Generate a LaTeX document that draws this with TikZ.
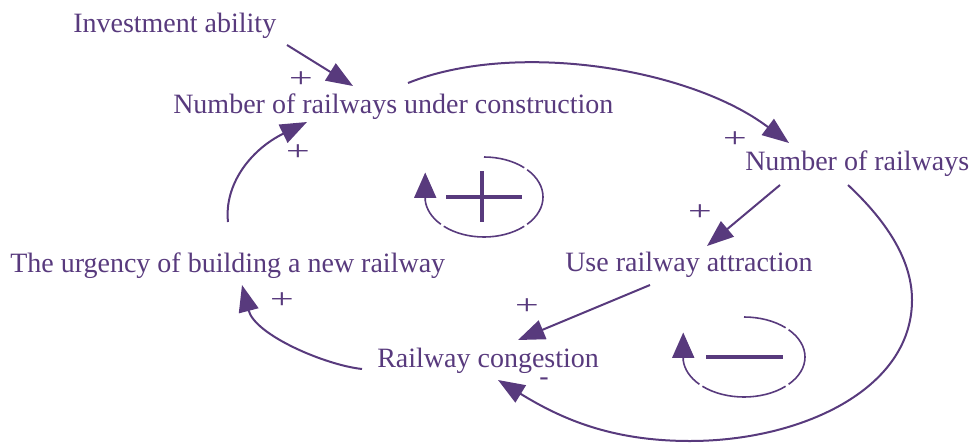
\documentclass[tikz,border=0pt]{standalone}
\usepackage{fontspec}
\setmainfont{Liberation Serif}
\usetikzlibrary{arrows.meta,calc}
\definecolor{ink}{RGB}{88,58,125}
\begin{document}
\begin{tikzpicture}[x=0.75pt,y=-0.75pt,
  var/.style={anchor=base west,inner sep=0pt,text=ink,font=\fontsize{21}{25}\selectfont},
  link/.style={draw=ink,line width=1.5pt,-{Triangle[length=20pt,width=15pt]}},
  pol/.style={text=ink,inner sep=0pt,font=\fontsize{21}{21}\selectfont},
  loopline/.style={draw=ink,line width=1.2pt},
  looptip/.style={loopline,-{Triangle[length=19pt,width=16.5pt]}},
  bar/.style={draw=ink,line width=2.5pt}]
\useasboundingbox (0,0) rectangle (974,443);

% variables
\node[var] (inv) at (73,32)  {Investment ability};
\node[var] (nuc) at (173,113) {Number of railways under construction};
\node[var] (nr)  at (745,170) {Number of railways};
\node[var] (ura) at (565,271) {Use railway attraction};
\node[var] (urg) at (10,272)  {The urgency of building a new railway};
\node[var] (rc)  at (377,367) {Railway congestion};

% causal links
\draw[link] ($(inv.base west)+(214,13)$) -- ($(nuc.base west)+(180,-27)$);
\draw[link] ($(nuc.base west)+(235,-30)$) .. controls (515,40) and (690,68) .. ($(nr.base west)+(44,-27)$);
\draw[link] ($(nr.base west)+(35,15)$) -- ($(ura.base west)+(142,-25)$);
\draw[link] ($(ura.base west)+(85,14)$) -- ($(rc.base west)+(141,-27)$);
\draw[link] ($(nr.base west)+(103,15)$) .. controls (880,215) and (912,255) .. (912,300)
  .. controls (912,390) and (800,441) .. (690,441)
  .. controls (610,441) and (560,418) .. ($(rc.base west)+(121,13)$);
\draw[link] ($(rc.base west)+(-15,2)$) .. controls (325,365) and (255,335) .. ($(urg.base west)+(232,13)$);
\draw[link] ($(urg.base west)+(218,-50)$) .. controls (224,185) and (250,150) .. ($(nuc.base west)+(134,9)$);

% link polarities
\node[pol] (s1) at (301,80)  {\scalebox{1.5}[1]{+}};
\node[pol] (s2) at (298,153) {\scalebox{1.5}[1]{+}};
\node[pol] (s3) at (735,140) {\scalebox{1.5}[1]{+}};
\node[pol] (s4) at (700,213) {\scalebox{1.5}[1]{+}};
\node[pol] (s5) at (527,307) {\scalebox{1.5}[1]{+}};
\node[pol] (s6) at (282,301) {\scalebox{1.5}[1]{+}};
\node[pol] (s7) at (544,382) {-};

% reinforcing loop marker
\draw[loopline] (484,197) ++(-90:59 and 40) arc[start angle=-90,end angle=-47,x radius=59,y radius=40];
\draw[loopline] (484,197) ++(-43:59 and 40) arc[start angle=-43,end angle=43,x radius=59,y radius=40];
\draw[loopline] (484,197) ++(47:59 and 40) arc[start angle=47,end angle=133,x radius=59,y radius=40];
\draw[looptip] (484,197) ++(137:59 and 40) arc[start angle=137,end angle=175,x radius=59,y radius=40] -- ++(0,-28);
\draw[bar] (446,197) -- (522,197);
\draw[bar] (482,171) -- (482,222);

% balancing loop marker
\draw[loopline] (744,357) ++(-90:61 and 40) arc[start angle=-90,end angle=-47,x radius=61,y radius=40];
\draw[loopline] (744,357) ++(-43:61 and 40) arc[start angle=-43,end angle=43,x radius=61,y radius=40];
\draw[loopline] (744,357) ++(47:61 and 40) arc[start angle=47,end angle=133,x radius=61,y radius=40];
\draw[looptip] (744,357) ++(137:61 and 40) arc[start angle=137,end angle=175,x radius=61,y radius=40] -- ++(0,-28);
\draw[bar] (706,357) -- (783,357);
\end{tikzpicture}
\end{document}
